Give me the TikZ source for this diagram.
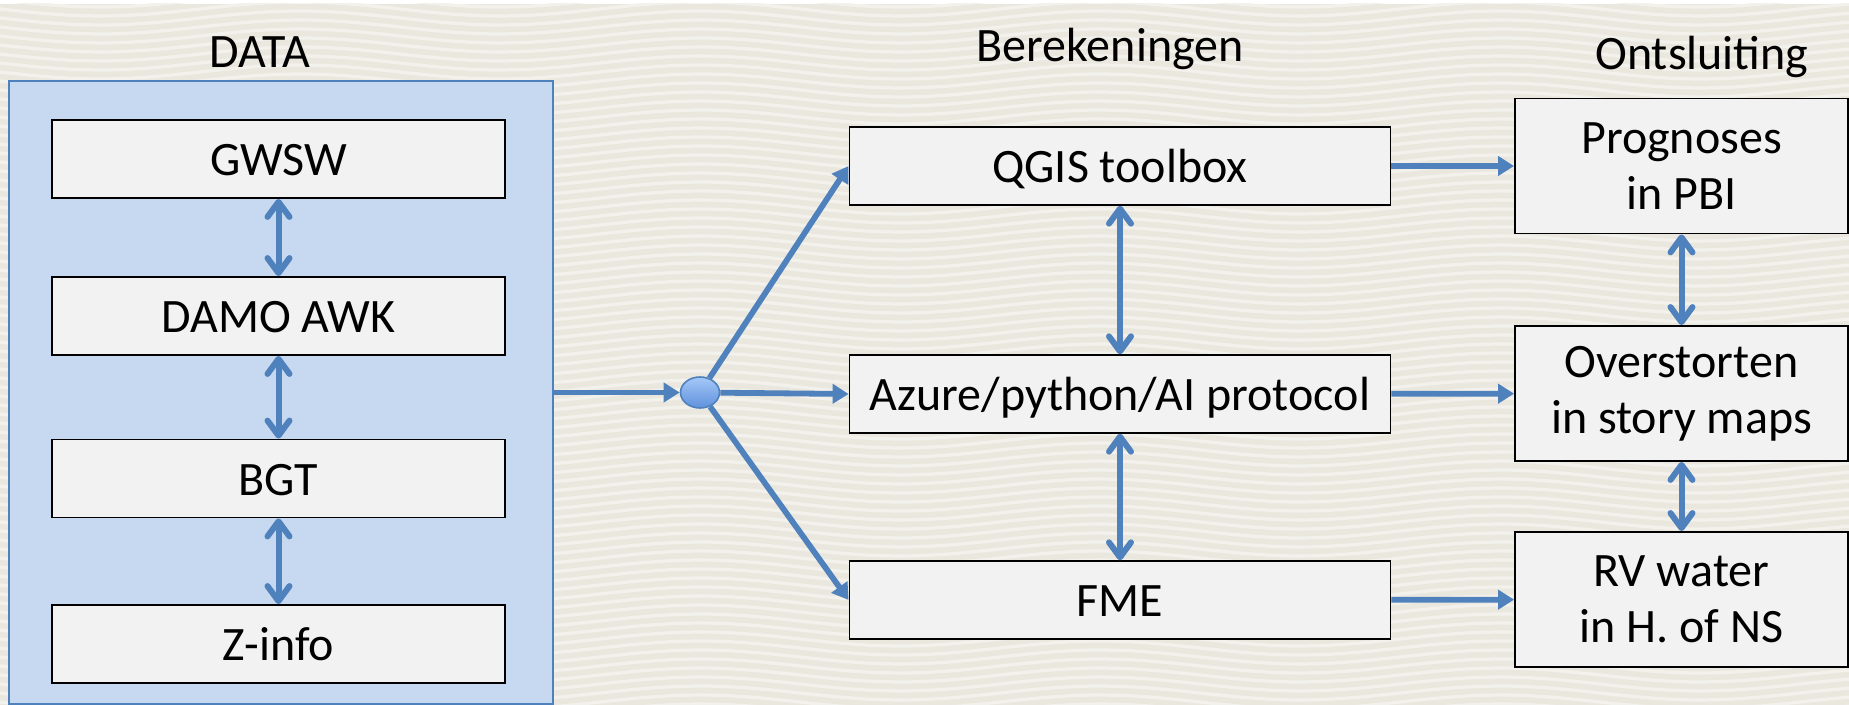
\documentclass[tikz,border=0pt]{standalone}
\usepackage{fontspec}
\setmainfont{Carlito}
\usetikzlibrary{arrows.meta}
\usetikzlibrary{shapes.geometric}

\definecolor{achtergrond}{RGB}{234,231,223}
\definecolor{golflicht}{RGB}{243,241,236}
\definecolor{datablauw}{RGB}{198,217,240}
\definecolor{lijnblauw}{RGB}{79,129,189}
\definecolor{vakgrijs}{RGB}{242,242,242}
\definecolor{bollicht}{RGB}{165,200,248}
\definecolor{boldonker}{RGB}{95,145,220}

\begin{document}
\begin{tikzpicture}[x=0.5pt, y=-0.5pt,
    font=\fontsize{24}{28}\selectfont,
    vak/.style={draw=black, line width=0.9pt, fill=vakgrijs, inner sep=0pt, text height=17pt, text depth=0pt},
    datavak/.style={vak, minimum width=226.5pt, minimum height=39pt},
    rekenvak/.style={vak, minimum width=270.5pt, minimum height=38.75pt},
    uitvak/.style={draw=black, line width=0.9pt, fill=vakgrijs, inner sep=0pt, align=center, minimum width=166.5pt, minimum height=67.5pt},
    pijl/.style={draw=lijnblauw, line width=2.9pt, -{Triangle[length=8pt, width=9.5pt]}},
    dubbel/.style={draw=lijnblauw, line width=3pt, {Straight Barb[round, length=7.5pt, width=11pt]}-{Straight Barb[round, length=7.5pt, width=11pt]}},
    kop/.style={anchor=base},
    golf/.style={draw=golflicht, line width=1.6pt}]
    \useasboundingbox (0,0) rectangle (1849,705);
    % achtergrond met golfjes
    \fill[white] (0,0) rectangle (1849,705);
    \fill[achtergrond] (0,4) rectangle (1849,705);
    \begin{scope}
        \clip (0,4) rectangle (1849,705);
        \foreach \k in {-3,...,80}
            \draw[golf] plot[domain=0:1849, samples=50, smooth] (\x, {9*\k + 7*sin(\x*0.9)});
    \end{scope}

    % DATA
    \node[draw=lijnblauw, line width=0.7pt, fill=datablauw, inner sep=0pt, minimum width=272pt, minimum height=311.5pt] (data) at (281,392.5) {};
    \node[kop] (datakop) at (260,67.5) {DATA};
    \node[datavak] (gwsw) at (278.5,159) {GWSW};
    \node[datavak] (damo) at (278.5,316) {DAMO AWK};
    \node[datavak] (bgt) at (278.5,478.5) {BGT};
    \node[datavak] (zinfo) at (278.5,644) {Z-info};
    \draw[dubbel] (gwsw) -- (damo);
    \draw[dubbel] (damo) -- (bgt);
    \draw[dubbel] (bgt) -- (zinfo);

    % Berekeningen
    \node[ellipse, draw=lijnblauw, line width=0.8pt, top color=bollicht, bottom color=boldonker, inner sep=0pt, minimum width=19.5pt, minimum height=15.5pt] (knoop) at (700,392.5) {};
    \node[kop] (rekenkop) at (1110,62) {Berekeningen};
    \node[rekenvak] (qgis) at (1120,166) {QGIS toolbox};
    \node[rekenvak] (azure) at (1120,394) {Azure/python/AI protocol};
    \node[rekenvak] (fme) at (1120,600) {FME};
    \draw[pijl] (data) -- (knoop);
    \draw[pijl] (knoop) -- (qgis.west);
    \draw[pijl] (knoop) -- (azure.west);
    \draw[pijl] (knoop) -- (fme.west);
    \draw[dubbel] (qgis) -- (azure);
    \draw[dubbel] (azure) -- (fme);

    % Ontsluiting
    \node[kop] (uitkop) at (1702,70) {Ontsluiting};
    \node[uitvak] (prog) at (1681.5,166) {Prognoses\\in PBI};
    \node[uitvak] (over) at (1681.5,393.5) {Overstorten\\in story maps};
    \node[uitvak] (rv) at (1681.5,599.5) {RV water\\in H. of NS};
    \draw[pijl] (qgis) -- (prog);
    \draw[pijl] (azure) -- (over);
    \draw[pijl] (fme) -- (rv);
    \draw[dubbel] (prog) -- (over);
    \draw[dubbel] (over) -- (rv);
\end{tikzpicture}
\end{document}
